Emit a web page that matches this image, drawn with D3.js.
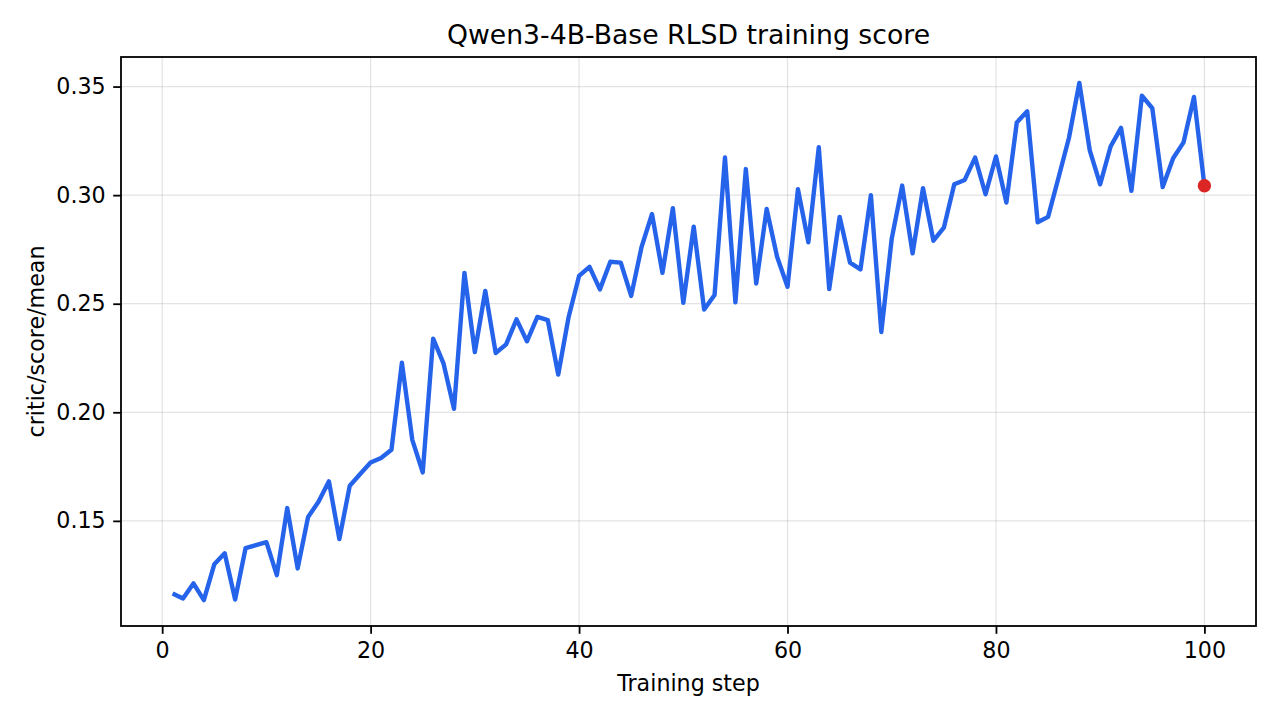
<!DOCTYPE html>
<html>
<head>
<meta charset="utf-8">
<title>Qwen3-4B-Base RLSD training score</title>
<style>
body { margin: 0; background: #fff; }
svg text { font-family: "DejaVu Sans", sans-serif; fill: #000; }
</style>
</head>
<body>
<script src="https://cdn.jsdelivr.net/npm/d3@7"></script>
<script>
// wartosci
var steps = d3.range(1, 101);
var scores = [
  0.1166, 0.1143, 0.1212, 0.1135, 0.1300, 0.1351, 0.1138, 0.1374, 0.1388, 0.1402,
  0.1250, 0.1559, 0.1281, 0.1518, 0.1588, 0.1682, 0.1416, 0.1662, 0.1716, 0.1769,
  0.1790, 0.1827, 0.2228, 0.1873, 0.1723, 0.2339, 0.2224, 0.2016, 0.2642, 0.2277,
  0.2559, 0.2273, 0.2313, 0.2428, 0.2327, 0.2439, 0.2424, 0.2174, 0.2439, 0.2628,
  0.2670, 0.2566, 0.2693, 0.2689, 0.2536, 0.2762, 0.2913, 0.2642, 0.2940, 0.2504,
  0.2855, 0.2473, 0.2540, 0.3173, 0.2506, 0.3120, 0.2593, 0.2936, 0.2716, 0.2578,
  0.3027, 0.2783, 0.3221, 0.2567, 0.2900, 0.2689, 0.2658, 0.3000, 0.2370, 0.2800,
  0.3044, 0.2732, 0.3032, 0.2790, 0.2850, 0.3050, 0.3070, 0.3173, 0.3004, 0.3178,
  0.2966, 0.3335, 0.3386, 0.2875, 0.2900, 0.3080, 0.3263, 0.3517, 0.3206, 0.3050,
  0.3224, 0.3310, 0.3020, 0.3458, 0.3400, 0.3037, 0.3170, 0.3243, 0.3452, 0.3043
];
var xTicks = [0, 20, 40, 60, 80, 100];
var yTicks = [0.15, 0.20, 0.25, 0.30, 0.35];

var width = 1280, height = 720;
var mLeft = 121, mRight = 1256, mTop = 57, mBottom = 626;

var dane = steps.map(function(s, i) { return {x: s, y: scores[i]}; });

// marginesy 5% jak w matplotlib
var xmin = d3.min(steps), xmax = d3.max(steps);
var ymin = d3.min(scores), ymax = d3.max(scores);
var xpad = (xmax - xmin) * 0.05, ypad = (ymax - ymin) * 0.05;

var x = d3.scaleLinear().domain([xmin - xpad, xmax + xpad]).range([mLeft, mRight]);
var y = d3.scaleLinear().domain([ymin - ypad, ymax + ypad]).range([mBottom, mTop]);

var svg = d3.select('body').append('svg')
  .attr('width', width)
  .attr('height', height);

// siatka
svg.append('g').selectAll('line')
  .data(xTicks).enter().append('line')
  .attr('x1', function(d) { return x(d); }).attr('x2', function(d) { return x(d); })
  .attr('y1', mTop).attr('y2', mBottom)
  .attr('stroke', '#b0b0b0').attr('stroke-opacity', 0.35).attr('stroke-width', 1.2);
svg.append('g').selectAll('line')
  .data(yTicks).enter().append('line')
  .attr('y1', function(d) { return y(d); }).attr('y2', function(d) { return y(d); })
  .attr('x1', mLeft).attr('x2', mRight)
  .attr('stroke', '#b0b0b0').attr('stroke-opacity', 0.35).attr('stroke-width', 1.2);

// linia wyniku
var linia = d3.line()
  .x(function(d) { return x(d.x); })
  .y(function(d) { return y(d.y); });

svg.append('path')
  .datum(dane)
  .attr('d', linia)
  .attr('fill', 'none')
  .attr('stroke', '#2563eb')
  .attr('stroke-width', 4.4)
  .attr('stroke-linejoin', 'round')
  .attr('stroke-linecap', 'butt');

// ostatni punkt
var ostatni = dane[dane.length - 1];
svg.append('circle')
  .attr('cx', x(ostatni.x))
  .attr('cy', y(ostatni.y))
  .attr('r', 6.7)
  .attr('fill', '#dc2626');

// osie
var xAxis = d3.axisBottom(x).tickValues(xTicks).tickFormat(d3.format('d'))
  .tickSizeInner(7.8).tickSizeOuter(0).tickPadding(7);
var yAxis = d3.axisLeft(y).tickValues(yTicks).tickFormat(d3.format('.2f'))
  .tickSizeInner(7.8).tickSizeOuter(0).tickPadding(7.5);

var gx = svg.append('g').attr('transform', 'translate(0,' + mBottom + ')').call(xAxis);
var gy = svg.append('g').attr('transform', 'translate(' + mLeft + ',0)').call(yAxis);
[gx, gy].forEach(function(g) {
  g.select('.domain').remove();
  g.selectAll('.tick line').attr('stroke', '#000').attr('stroke-width', 1.8);
  g.selectAll('.tick text').style('font-size', '22.2px')
    .style('font-family', '"DejaVu Sans", sans-serif').attr('fill', '#000');
});
gx.selectAll('.tick text').attr('dy', '0.76em');

// ramka
svg.append('rect')
  .attr('x', mLeft).attr('y', mTop)
  .attr('width', mRight - mLeft).attr('height', mBottom - mTop)
  .attr('fill', 'none').attr('stroke', '#000').attr('stroke-width', 1.8);

// podpisy
svg.append('text')
  .attr('x', (mLeft + mRight) / 2).attr('y', 44)
  .attr('text-anchor', 'middle')
  .style('font-size', '26.7px')
  .text('Qwen3-4B-Base RLSD training score');

svg.append('text')
  .attr('x', (mLeft + mRight) / 2).attr('y', 691)
  .attr('text-anchor', 'middle')
  .style('font-size', '22.2px')
  .text('Training step');

svg.append('text')
  .attr('transform', 'translate(44,' + ((mTop + mBottom) / 2) + ') rotate(-90)')
  .attr('text-anchor', 'middle')
  .style('font-size', '22.2px')
  .text('critic/score/mean');
</script>
</body>
</html>
